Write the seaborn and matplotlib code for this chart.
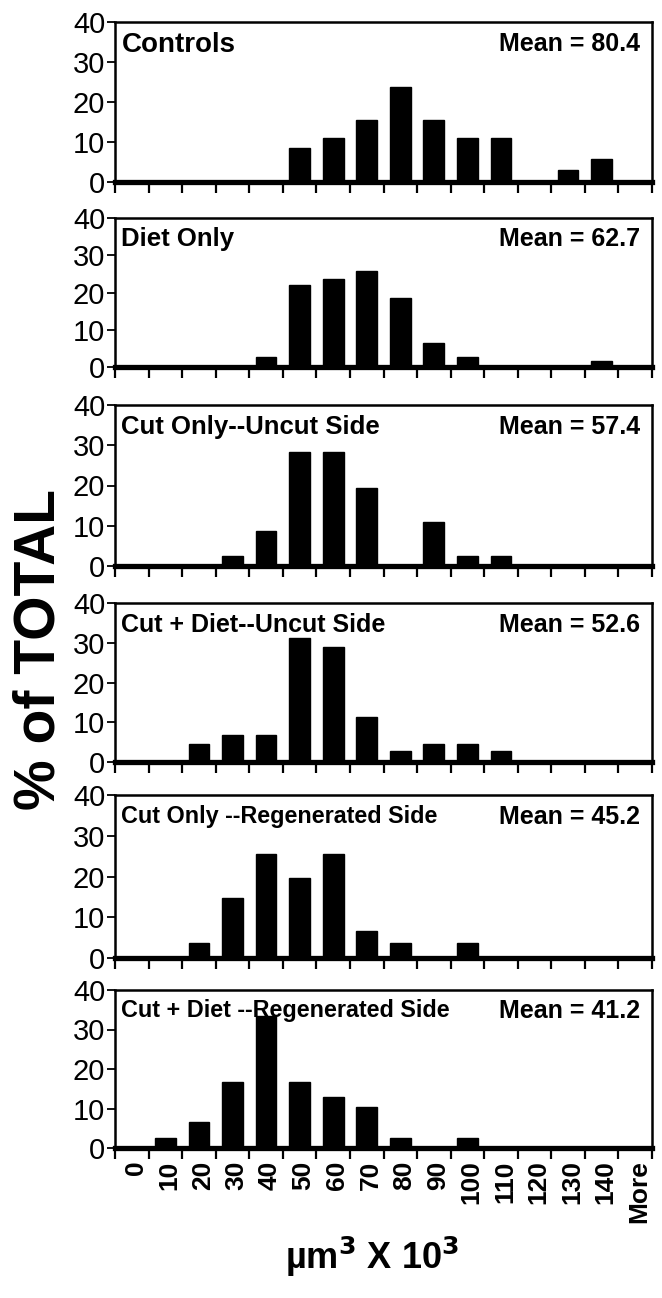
import numpy as np
import pandas as pd
import matplotlib
matplotlib.use("Agg")
import matplotlib.pyplot as plt
import matplotlib.transforms as mtransforms
import seaborn as sns
from matplotlib.ticker import FixedLocator, NullFormatter

# bin labels (um^3 x 10^3)
bins = ["0", "10", "20", "30", "40", "50", "60", "70", "80", "90",
        "100", "110", "120", "130", "140", "More"]

titles = ["Controls", "Diet Only", "Cut Only--Uncut Side",
          "Cut + Diet--Uncut Side", "Cut Only --Regenerated Side",
          "Cut + Diet --Regenerated Side"]
means = ["Mean = 80.4", "Mean = 62.7", "Mean = 57.4",
         "Mean = 52.6", "Mean = 45.2", "Mean = 41.2"]

# % of total per bin
controls = [0, 0, 0, 0, 0, 8.4, 11.0, 15.6, 23.7, 15.6, 11.0, 11.0, 0, 2.9, 5.8, 0]
diet_only = [0, 0, 0, 0, 2.6, 22.0, 23.5, 25.9, 18.4, 6.4, 2.6, 0, 0, 0, 1.7, 0]
cut_uncut = [0, 0, 0, 2.4, 8.6, 28.3, 28.3, 19.5, 0, 10.9, 2.4, 2.4, 0, 0, 0, 0]
cutdiet_uncut = [0, 0, 4.6, 6.7, 6.7, 31.1, 28.9, 11.2, 2.7, 4.6, 4.6, 2.7, 0, 0, 0, 0]
cut_regen = [0, 0, 3.8, 14.8, 25.6, 19.6, 25.6, 6.7, 3.8, 0, 3.8, 0, 0, 0, 0, 0]
cutdiet_regen = [0, 2.5, 6.5, 16.7, 33.5, 16.7, 12.8, 10.4, 2.5, 0, 2.5, 0, 0, 0, 0, 0]

series = [controls, diet_only, cut_uncut, cutdiet_uncut, cut_regen, cutdiet_regen]

sns.set_style("ticks")
plt.rcParams['font.family'] = ['Liberation Sans', 'DejaVu Sans']
plt.rcParams['text.color'] = 'black'
plt.rcParams['xtick.color'] = 'black'
plt.rcParams['ytick.color'] = 'black'
plt.rcParams['axes.edgecolor'] = 'black'

W, H = 662, 1298
fig = plt.figure(figsize=(W / 100, H / 100), dpi=100)

# panel frames in pixels: (top, bottom)
frames = [(22, 182), (218, 367), (405, 566), (603, 762), (795, 958), (990, 1148)]
left, right = 115, 652
title_sizes = [20, 18.5, 18.5, 18, 16.8, 16.8]

for i, (vals, title, mean) in enumerate(zip(series, titles, means)):
    top, bot = frames[i]
    ax = fig.add_axes([left / W, 1 - bot / H, (right - left) / W, (bot - top) / H])
    df = pd.DataFrame({"bin": bins, "pct": vals})
    sns.barplot(data=df, x="bin", y="pct", color="black", width=0.62,
                saturation=1, edgecolor="black", ax=ax)
    ax.set_xlim(-0.5, len(bins) - 0.5)
    ax.set_ylim(0, 40)
    ax.set_yticks([0, 10, 20, 30, 40])
    ax.set_yticklabels(["0", "10", "20", "30", "40"], fontsize=21)
    ax.tick_params(axis="y", length=6, width=1.3, pad=1, direction="out")

    # tick marks at bin edges, labels at bin centres
    ax.xaxis.set_major_locator(FixedLocator(np.arange(-0.5, len(bins), 1.0)))
    ax.xaxis.set_major_formatter(NullFormatter())
    ax.tick_params(axis="x", which="major", length=8, width=1.6, direction="out")
    ax.xaxis.set_minor_locator(FixedLocator(np.arange(len(bins))))
    ax.tick_params(axis="x", which="minor", length=0, pad=9)
    if i == len(series) - 1:
        labs = ax.set_xticklabels(bins, minor=True, rotation=90, fontsize=19,
                                  fontweight="bold", va="top", ha="center")
        shift = mtransforms.ScaledTranslation(4 / 100, 0, fig.dpi_scale_trans)
        for lab in labs:
            lab.set_transform(lab.get_transform() + shift)
    else:
        ax.set_xticklabels([""] * len(bins), minor=True)

    ax.set_xlabel("")
    ax.set_ylabel("")
    for s in ["top", "right", "left"]:
        ax.spines[s].set_linewidth(1.8)
    ax.spines["bottom"].set_linewidth(3.8)

    ax.text(0.012, 0.94, title, transform=ax.transAxes, ha="left", va="top",
            fontsize=title_sizes[i], fontweight="bold")
    ax.text(0.978, 0.94, mean, transform=ax.transAxes, ha="right", va="top",
            fontsize=18, fontweight="bold")

fig.text(40 / W, 1 - 650 / H, "% of TOTAL", rotation=90, ha="center", va="center",
         fontsize=41, fontweight="bold")
fig.text(372 / W, 1 - 1257 / H, "µm$^\\mathbf{3}$ X 10$^\\mathbf{3}$", ha="center", va="center",
         fontsize=26, fontweight="bold")

fig.savefig("out.png", dpi=100)
